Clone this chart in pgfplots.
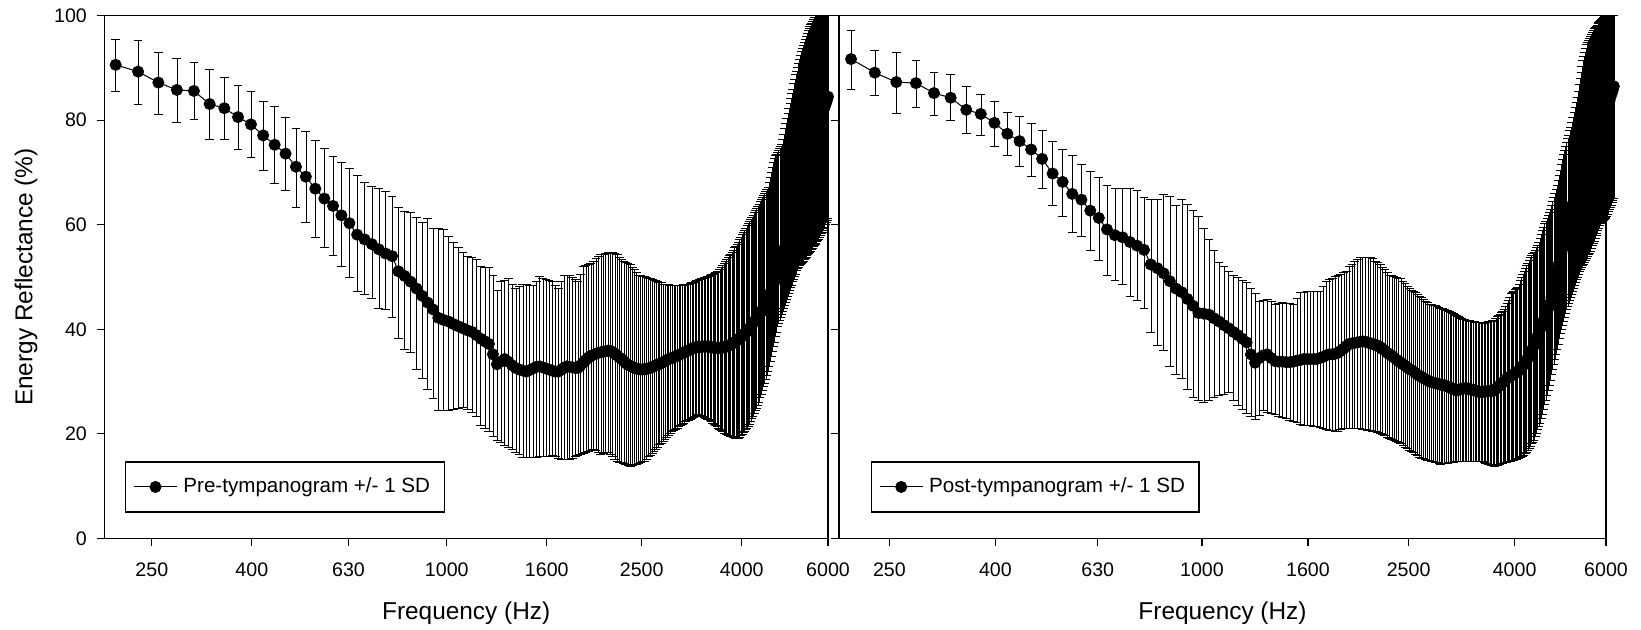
\documentclass[border=0pt]{standalone}
\usepackage{fontspec}
\setmainfont{Liberation Sans}
\setsansfont{Liberation Sans}
\usepackage{pgfplots}
\usepackage{pgfplotstable}
\pgfplotsset{compat=1.18}

% k = frequency bin (f = k * 23.4375 Hz); m = mean; hi/lo = mean +/- 1 SD
\pgfplotstableread{
k m hi lo
9 90.6 95.4 85.5
10 89.3 95.2 83.1
11 87.2 93.0 81.2
12 85.8 91.9 79.6
13 85.6 91.1 80.1
14 83.1 89.8 76.4
15 82.3 88.2 76.4
16 80.6 86.7 74.4
17 79.2 85.6 72.9
18 77.1 83.7 70.4
19 75.3 82.7 67.9
20 73.6 80.6 66.5
21 71.1 78.5 63.3
22 69.2 77.8 60.5
23 66.9 76.1 57.6
24 65.0 74.6 55.7
25 63.6 73.1 54.2
26 61.8 71.9 52.0
27 60.3 70.8 49.9
28 58.1 69.4 47.2
29 57.2 68.2 46.6
30 56.3 67.3 46.0
31 55.3 66.9 44.1
32 54.5 66.4 43.8
33 54.0 65.4 42.2
34 51.1 63.4 38.2
35 50.2 62.6 36.2
36 49.1 62.4 35.6
37 47.8 61.4 32.3
38 46.4 60.4 30.6
39 45.1 61.3 28.6
40 43.8 59.3 26.7
41 42.2 59.3 24.4
42 41.8 59.2 24.4
43 41.5 57.8 24.4
44 41.0 56.7 24.6
45 40.6 55.7 24.8
46 40.2 54.8 25.0
47 39.8 54.0 24.7
48 39.5 53.7 24.1
49 38.9 53.4 23.4
50 38.2 52.0 21.7
51 37.7 51.9 21.0
52 37.2 51.8 20.4
53 35.2 50.4 19.6
54 33.3 47.4 18.8
55 33.8 49.1 18.3
56 34.3 49.4 17.8
57 33.8 49.7 17.4
58 33.1 48.7 17.0
59 32.6 47.8 16.5
60 32.3 48.2 16.0
61 32.1 48.7 15.5
62 31.9 48.6 15.5
63 32.2 48.5 15.5
64 32.5 48.4 15.5
65 32.8 49.2 15.5
66 32.9 50.1 15.6
67 32.7 49.8 15.6
68 32.5 49.6 15.7
69 32.3 49.3 15.7
70 32.1 49.1 15.8
71 31.9 48.5 15.6
72 31.9 47.9 15.4
73 32.2 49.2 15.2
74 32.6 50.4 15.2
75 32.9 50.4 15.2
76 32.8 50.4 15.2
77 32.7 50.0 15.4
78 32.6 49.5 15.7
79 32.6 49.1 15.9
80 33.1 50.5 16.1
81 33.6 52.0 16.3
82 34.1 52.2 16.5
83 34.6 52.5 16.7
84 34.9 52.7 16.9
85 35.1 53.1 17.1
86 35.3 53.5 16.8
87 35.5 53.9 16.4
88 35.6 54.3 16.1
89 35.7 54.4 16.2
90 35.8 54.6 16.4
91 35.9 54.7 16.5
92 35.9 54.8 16.1
93 35.6 54.7 15.6
94 35.3 54.5 15.2
95 35.0 54.3 14.8
96 34.6 53.8 14.6
97 34.3 53.4 14.5
98 33.9 53.1 14.3
99 33.5 52.9 14.1
100 33.2 52.6 14.0
101 33.0 52.4 13.8
102 32.8 51.9 13.9
103 32.6 51.4 14.1
104 32.5 50.9 14.2
105 32.4 50.4 14.4
106 32.3 50.3 14.5
107 32.3 50.2 14.7
108 32.4 50.1 14.8
109 32.4 49.9 15.2
110 32.5 49.8 15.6
111 32.6 49.7 15.9
112 32.8 49.6 16.3
113 32.9 49.4 16.7
114 33.1 49.3 17.1
115 33.2 49.2 17.5
116 33.4 49.0 17.9
117 33.5 48.9 18.2
118 33.7 48.7 18.6
119 33.9 48.6 19.0
120 34.1 48.6 19.4
121 34.3 48.6 19.7
122 34.4 48.5 20.1
123 34.5 48.5 20.4
124 34.7 48.5 20.6
125 34.8 48.4 20.9
126 34.9 48.4 21.1
127 35.1 48.4 21.4
128 35.2 48.5 21.6
129 35.4 48.5 21.9
130 35.5 48.6 22.1
131 35.7 48.6 22.3
132 35.8 48.7 22.5
133 36.0 48.7 22.6
134 36.1 48.8 22.8
135 36.3 48.9 23.0
136 36.4 49.0 23.2
137 36.5 49.2 23.3
138 36.5 49.3 23.5
139 36.6 49.4 23.7
140 36.6 49.5 23.6
141 36.6 49.7 23.4
142 36.7 49.8 23.3
143 36.7 49.9 23.1
144 36.7 50.0 23.0
145 36.7 50.1 22.8
146 36.7 50.2 22.7
147 36.6 50.4 22.5
148 36.6 50.5 22.4
149 36.5 50.6 22.1
150 36.5 50.7 21.9
151 36.5 50.9 21.6
152 36.4 51.0 21.4
153 36.4 51.1 21.1
154 36.4 51.5 20.9
155 36.4 51.8 20.6
156 36.5 52.2 20.4
157 36.6 52.6 20.1
158 36.6 53.0 20.0
159 36.7 53.3 19.9
160 36.8 53.7 19.8
161 36.9 54.1 19.7
162 37.1 54.4 19.6
163 37.2 54.8 19.5
164 37.4 55.2 19.4
165 37.5 55.6 19.3
166 37.7 55.9 19.2
167 37.9 56.3 19.1
168 38.1 56.7 19.1
169 38.3 57.2 19.4
170 38.5 57.6 19.7
171 38.7 58.1 19.9
172 39.0 58.5 20.2
173 39.2 59.0 20.5
174 39.4 59.4 20.8
175 39.7 59.9 21.1
176 40.0 60.3 21.4
177 40.2 60.7 21.9
178 40.5 61.1 22.4
179 40.8 61.5 22.9
180 41.2 61.9 23.4
181 41.5 62.4 23.9
182 41.8 62.8 24.4
183 42.1 63.2 24.9
184 42.4 63.6 25.4
185 42.7 64.0 26.1
186 43.0 64.4 26.9
187 43.3 64.8 27.6
188 43.7 65.2 28.3
189 44.1 65.6 29.0
190 44.5 66.0 29.7
191 44.9 66.4 30.4
192 45.4 66.8 31.2
193 45.9 67.2 31.9
194 46.3 68.1 32.9
195 46.8 69.1 33.8
196 47.4 70.0 34.8
197 48.0 70.9 35.7
198 48.5 71.9 36.7
199 49.1 72.8 37.6
200 49.8 73.2 38.6
201 50.4 73.5 39.5
202 51.1 73.9 40.5
203 51.7 74.3 41.1
204 52.4 74.7 41.7
205 53.0 75.0 42.3
206 53.7 75.4 42.9
207 54.4 76.4 43.5
208 55.0 77.4 44.0
209 55.7 78.4 44.6
210 56.4 79.4 45.2
211 57.1 80.4 45.8
212 57.9 81.4 46.4
213 58.6 82.3 46.9
214 59.3 83.3 47.5
215 60.0 84.2 48.0
216 60.7 85.1 48.5
217 61.5 86.0 49.1
218 62.2 87.0 49.6
219 62.9 87.9 50.1
220 63.8 88.7 50.6
221 64.7 89.4 51.2
222 65.6 90.2 51.7
223 66.6 90.9 51.9
224 67.5 91.7 52.2
225 68.4 92.4 52.4
226 69.3 93.2 52.7
227 70.3 93.8 52.9
228 71.2 94.3 53.1
229 72.1 94.9 53.4
230 72.6 95.5 53.6
231 73.1 96.1 53.8
232 73.6 96.6 54.1
233 74.0 97.2 54.3
234 74.5 97.6 54.5
235 75.0 97.9 54.8
236 75.4 98.3 55.0
237 75.8 98.6 55.3
238 76.2 99.0 55.5
239 76.6 99.3 55.8
240 77.0 99.7 56.0
241 77.4 100 56.3
242 77.9 100 56.5
243 78.4 100 56.8
244 78.8 100 57.0
245 79.3 100 57.3
246 79.8 100 57.6
247 80.2 100 58.0
248 80.7 100 58.3
249 81.2 100 58.6
250 81.6 100 58.9
251 82.1 100 59.3
252 82.6 100 59.6
253 83.0 100 60.0
254 83.5 100 60.5
255 84.0 100 60.9
256 84.5 100 61.3
}\pretab

\pgfplotstableread{
k m hi lo
9 91.7 97.3 86.0
10 89.1 93.4 84.7
11 87.3 93.0 81.4
12 87.1 91.4 82.5
13 85.2 89.2 81.0
14 84.3 88.8 80.0
15 82.0 86.5 77.5
16 81.2 85.0 77.2
17 79.5 83.7 75.1
18 77.4 81.5 73.3
19 76.0 80.8 71.1
20 74.4 79.5 69.2
21 72.6 78.1 66.9
22 69.8 76.0 63.8
23 68.2 74.4 61.6
24 65.9 73.2 58.6
25 64.8 71.5 57.8
26 62.7 70.2 55.2
27 61.3 69.0 53.2
28 59.1 67.5 50.4
29 58.0 66.9 49.4
30 57.6 66.9 48.6
31 56.7 66.9 46.3
32 56.0 66.5 45.5
33 55.2 65.2 44.1
34 52.4 64.9 39.5
35 51.7 64.9 36.9
36 50.7 65.9 36.0
37 49.2 65.5 32.9
38 47.8 63.7 31.3
39 47.1 64.9 30.6
40 45.8 63.9 28.5
41 44.5 62.8 27.0
42 43.1 61.7 26.4
43 43.0 59.3 26.0
44 42.8 57.2 26.5
45 42.1 55.1 27.0
46 41.5 52.9 27.3
47 40.8 52.0 27.6
48 40.2 51.1 28.0
49 39.5 50.4 26.4
50 38.9 49.9 25.5
51 38.2 49.4 24.7
52 37.5 48.9 24.0
53 35.2 47.8 23.4
54 33.6 46.8 22.7
55 34.5 45.3 23.5
56 35.0 45.6 24.4
57 35.2 45.8 24.2
58 34.5 45.3 23.9
59 33.9 44.8 23.7
60 33.8 45.0 23.4
61 33.8 45.1 23.1
62 33.7 45.0 22.9
63 33.7 44.9 22.6
64 33.8 44.8 22.4
65 34.0 46.0 22.2
66 34.1 47.1 21.9
67 34.3 47.1 21.7
68 34.3 47.2 21.6
69 34.3 47.2 21.6
70 34.3 47.2 21.5
71 34.3 47.2 21.4
72 34.5 47.2 21.2
73 34.7 48.2 21.0
74 35.0 49.2 20.8
75 35.2 49.5 20.7
76 35.2 49.8 20.6
77 35.3 50.1 20.5
78 35.5 50.4 20.4
79 35.9 50.6 20.8
80 36.3 50.9 21.0
81 36.8 51.1 21.1
82 37.2 52.0 21.1
83 37.3 52.5 21.1
84 37.4 53.0 21.1
85 37.5 53.4 21.1
86 37.6 53.7 21.1
87 37.7 53.7 20.9
88 37.6 53.8 20.8
89 37.5 53.8 20.7
90 37.3 53.8 20.6
91 37.2 53.5 20.5
92 37.0 53.1 20.4
93 36.9 52.8 20.2
94 36.6 52.4 20.1
95 36.2 51.9 19.9
96 35.9 51.4 19.7
97 35.5 50.9 19.4
98 35.2 50.4 19.2
99 34.9 50.3 19.0
100 34.6 50.1 18.8
101 34.2 50.0 18.6
102 33.9 49.8 18.3
103 33.6 49.7 18.1
104 33.3 49.2 17.8
105 33.0 48.8 17.5
106 32.7 48.3 17.2
107 32.4 47.8 16.9
108 32.2 47.5 16.7
109 31.9 47.2 16.4
110 31.6 47.0 16.1
111 31.3 46.7 15.8
112 31.1 46.4 15.5
113 30.9 46.1 15.4
114 30.6 45.7 15.3
115 30.4 45.4 15.2
116 30.2 45.1 15.0
117 30.0 44.8 14.9
118 29.9 44.7 14.8
119 29.8 44.6 14.7
120 29.7 44.5 14.6
121 29.6 44.3 14.5
122 29.5 44.2 14.3
123 29.4 44.1 14.2
124 29.3 44.0 14.3
125 29.3 43.9 14.3
126 29.1 43.7 14.4
127 29.0 43.6 14.4
128 28.9 43.5 14.5
129 28.7 43.3 14.6
130 28.6 43.1 14.6
131 28.4 42.8 14.7
132 28.3 42.6 14.7
133 28.4 42.4 14.8
134 28.5 42.2 14.8
135 28.6 42.1 14.8
136 28.7 42.0 14.8
137 28.7 41.9 14.8
138 28.7 41.8 14.8
139 28.6 41.8 14.8
140 28.5 41.7 14.8
141 28.5 41.6 14.8
142 28.4 41.5 14.8
143 28.3 41.5 14.8
144 28.2 41.4 14.8
145 28.1 41.4 14.8
146 28.0 41.3 14.8
147 28.0 41.3 14.8
148 28.0 41.2 14.7
149 28.1 41.2 14.6
150 28.1 41.3 14.4
151 28.1 41.4 14.3
152 28.2 41.5 14.2
153 28.2 41.5 14.1
154 28.2 41.6 14.0
155 28.3 41.7 13.9
156 28.3 41.8 13.8
157 28.6 42.1 13.9
158 28.8 42.4 14.0
159 29.1 42.6 14.1
160 29.3 42.9 14.2
161 29.6 43.2 14.3
162 29.8 43.5 14.4
163 30.1 43.8 14.5
164 30.3 44.4 14.6
165 30.6 45.0 14.6
166 30.8 45.6 14.7
167 30.9 46.2 14.7
168 31.1 46.8 14.8
169 31.3 47.1 14.9
170 31.4 47.3 15.0
171 31.6 47.6 15.1
172 31.8 47.8 15.2
173 31.9 48.1 15.3
174 32.1 48.7 15.4
175 32.3 49.3 15.5
176 32.7 49.9 15.6
177 33.0 50.5 15.7
178 33.4 51.1 15.8
179 33.8 51.6 16.2
180 34.1 52.2 16.5
181 34.5 52.7 16.9
182 34.8 53.2 17.3
183 35.2 53.7 17.7
184 35.8 54.1 18.1
185 36.4 54.5 18.4
186 37.0 54.8 18.8
187 37.5 55.2 19.5
188 38.1 55.6 20.1
189 38.7 56.0 20.8
190 39.3 56.7 21.4
191 39.9 57.4 22.1
192 40.5 58.2 23.0
193 41.0 58.9 23.8
194 41.6 59.6 24.7
195 42.2 60.2 25.6
196 42.8 60.7 26.4
197 43.4 61.3 27.3
198 43.9 61.8 28.3
199 44.5 62.4 29.3
200 45.1 62.9 30.3
201 46.1 63.7 31.3
202 47.0 64.4 32.3
203 48.0 65.2 33.3
204 48.9 66.0 34.3
205 49.9 66.7 35.3
206 50.8 67.5 36.2
207 51.8 68.5 37.2
208 52.7 69.5 38.2
209 53.7 70.5 39.2
210 54.6 71.5 40.0
211 55.4 72.5 40.7
212 56.3 73.5 41.5
213 57.1 74.2 42.3
214 58.0 75.0 43.0
215 58.8 75.7 43.8
216 59.7 76.5 44.4
217 60.6 77.2 44.9
218 61.4 78.0 45.5
219 62.3 78.7 46.1
220 63.2 79.6 46.7
221 64.1 80.6 47.2
222 65.1 81.5 47.8
223 66.0 82.4 48.4
224 67.0 83.4 48.9
225 67.9 84.3 49.5
226 68.9 85.5 50.0
227 69.8 86.8 50.6
228 70.8 88.0 51.1
229 71.2 89.2 51.5
230 71.6 90.3 51.8
231 72.1 91.5 52.2
232 72.5 92.3 52.5
233 72.9 93.0 52.9
234 73.3 93.8 53.2
235 73.7 94.5 53.6
236 74.2 94.9 53.9
237 74.6 95.3 54.3
238 75.0 95.7 54.6
239 75.4 96.0 55.0
240 75.8 96.4 55.5
241 76.1 96.8 56.0
242 76.5 97.2 56.5
243 76.8 97.5 56.9
244 77.2 97.7 57.4
245 77.6 98.0 57.9
246 77.9 98.2 58.4
247 78.3 98.5 58.9
248 78.7 98.7 59.4
249 79.0 98.9 59.8
250 79.4 99.1 60.3
251 79.8 99.3 60.5
252 80.3 99.5 60.7
253 80.7 99.7 60.8
254 81.1 99.9 61.0
255 81.6 100 61.2
256 82.0 100 61.4
257 82.4 100 61.6
258 82.9 100 62.0
259 83.3 100 62.5
260 83.8 100 62.9
261 84.4 100 63.4
262 84.9 100 63.8
263 85.4 100 64.2
264 85.9 100 64.6
265 86.5 100 65.0
}\posttab

\begin{document}
\begin{tikzpicture}
\useasboundingbox (0,0) rectangle (820.5pt,314.5pt);

\begin{axis}[
  at={(52.15pt,45.35pt)}, anchor=south west,
  scale only axis, width=361.85pt, height=261.3pt,
  xmode=log,
  xmin=200, xmax=6000, ymin=0, ymax=100,
  xtick={250,400,630,1000,1600,2500,4000,6000},
  xticklabels={250,400,630,1000,1600,2500,4000,6000},
  minor xtick={},
  ytick={0,20,40,60,80,100},
  yticklabels={0,20,40,60,80,100},
  tick pos=left, tick align=outside,
  major tick length=3.8pt,
  axis line style={line width=0.6pt},
  major tick style={black, line width=0.6pt},
  tick label style={font=\fontsize{9.8}{11}\selectfont},
  xticklabel style={yshift=-4.7pt},
  yticklabel style={xshift=-1.4pt},
  xlabel={Frequency (Hz)},
  xlabel style={font=\fontsize{12.2}{14}\selectfont, at={(axis description cs:0.5,-0.155)}, anchor=base},
  ylabel={Energy Reflectance (\%)},
  ylabel style={font=\fontsize{12.2}{14}\selectfont, at={(axis description cs:-0.0995,0.5)}, anchor=base},
  clip=false,
  legend style={at={(axis description cs:0.0286,0.0494)}, anchor=south west,
    draw=black, line width=0.6pt, inner xsep=4pt, inner ysep=5pt,
    font=\fontsize{10.3}{12}\selectfont, nodes={inner sep=3pt}},
  legend cell align=left,
  legend image code/.code={\draw[mark repeat=2,mark phase=2] plot coordinates {(0pt,0pt) (10.7pt,0pt) (21.4pt,0pt)};},
]
\addplot[black, line width=0.5pt, mark=*, mark size=2.75pt,
  mark options={fill=black, draw=black},
  error bars/y dir=both, error bars/y explicit,
  error bars/error bar style={line width=0.2pt, black},
  error bars/error mark options={rotate=90, mark size=2.2pt, line width=0.3pt, black}]
  table[x expr=\thisrow{k}*23.4375, y=m,
  y error plus expr=\thisrow{hi}-\thisrow{m},
  y error minus expr=\thisrow{m}-\thisrow{lo}] {\pretab};
\addlegendentry{Pre-tympanogram +/- 1 SD}
\end{axis}

\begin{axis}[
  at={(419.5pt,45.35pt)}, anchor=south west,
  scale only axis, width=383.5pt, height=261.3pt,
  xmode=log,
  xmin=200, xmax=6000, ymin=0, ymax=100,
  xtick={250,400,630,1000,1600,2500,4000,6000},
  xticklabels={250,400,630,1000,1600,2500,4000,6000},
  minor xtick={},
  ytick={0,20,40,60,80,100},
  yticklabels={},
  tick pos=left, tick align=outside,
  major tick length=3.8pt,
  axis line style={line width=0.6pt},
  major tick style={black, line width=0.6pt},
  tick label style={font=\fontsize{9.8}{11}\selectfont},
  xticklabel style={yshift=-4.7pt},
  xlabel={Frequency (Hz)},
  xlabel style={font=\fontsize{12.2}{14}\selectfont, at={(axis description cs:0.5,-0.155)}, anchor=base},
  clip=false,
  legend style={at={(axis description cs:0.0413,0.0494)}, anchor=south west,
    draw=black, line width=0.6pt, inner xsep=4pt, inner ysep=5pt,
    font=\fontsize{10.3}{12}\selectfont, nodes={inner sep=3pt}},
  legend cell align=left,
  legend image code/.code={\draw[mark repeat=2,mark phase=2] plot coordinates {(0pt,0pt) (10.7pt,0pt) (21.4pt,0pt)};},
]
\addplot[black, line width=0.5pt, mark=*, mark size=2.75pt,
  mark options={fill=black, draw=black},
  error bars/y dir=both, error bars/y explicit,
  error bars/error bar style={line width=0.2pt, black},
  error bars/error mark options={rotate=90, mark size=2.2pt, line width=0.3pt, black}]
  table[x expr=\thisrow{k}*23.4375, y=m,
  y error plus expr=\thisrow{hi}-\thisrow{m},
  y error minus expr=\thisrow{m}-\thisrow{lo}] {\posttab};
\addlegendentry{Post-tympanogram +/- 1 SD}
\end{axis}
\end{tikzpicture}
\end{document}
